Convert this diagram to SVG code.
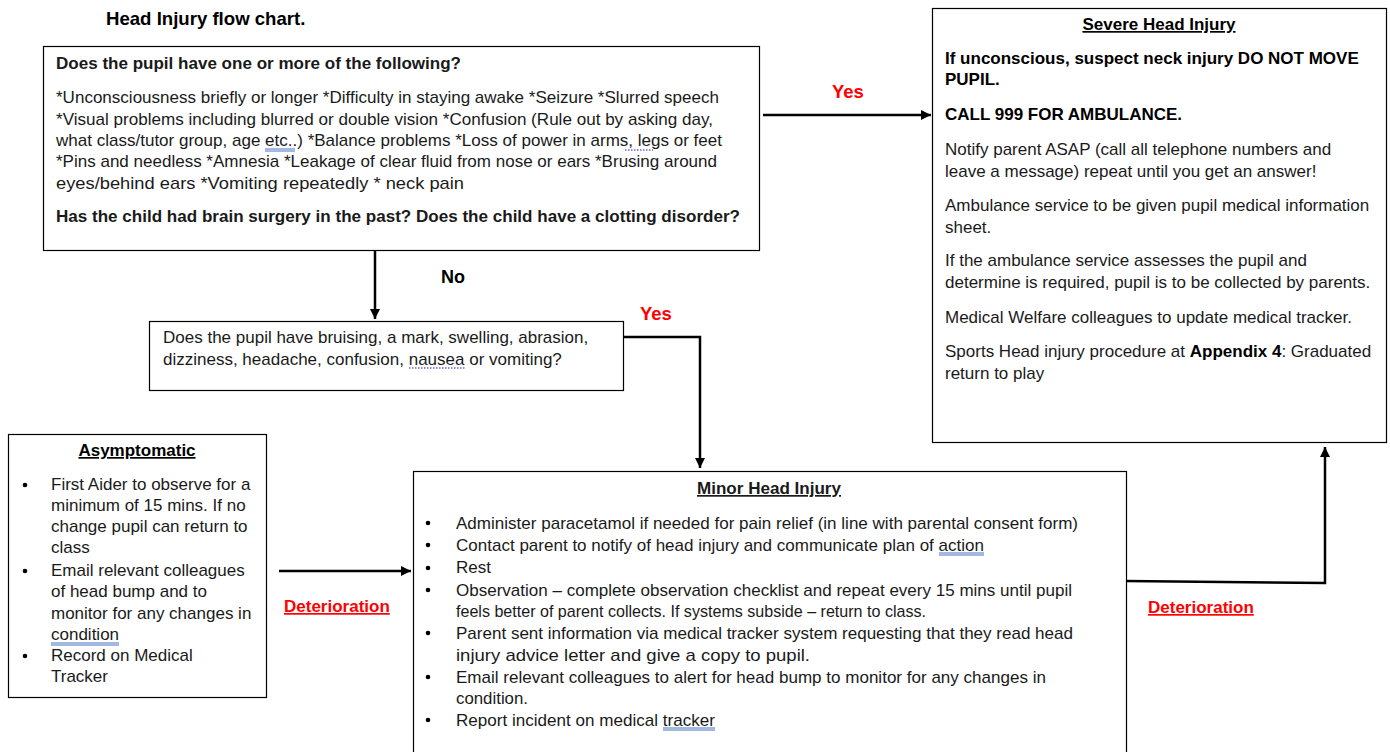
<svg xmlns="http://www.w3.org/2000/svg" width="1390" height="752" viewBox="0 0 1390 752">
<style>
.box{fill:#fff;stroke:#000;stroke-width:1.2}
.t{font-family:"Liberation Sans",Arial,sans-serif;font-size:17px;fill:#1a1a1a}
.b{font-weight:bold;fill:#000}
.n{font-family:"Liberation Sans Narrow","Liberation Sans",Arial,sans-serif;font-size:17px;fill:#1a1a1a}
.u{text-decoration:underline}
.red{font-family:"Liberation Sans",Arial,sans-serif;font-size:18.5px;font-weight:bold;fill:#ff0000}
.con{fill:none;stroke:#000;stroke-width:2.5}
.sp{stroke:#4472c4;stroke-width:1}
.sg{stroke:#7a5cd6;stroke-width:1.5;stroke-dasharray:1.5 1.5}
</style>
<defs>
<marker id="ah" viewBox="0 0 10 10" refX="10" refY="5" markerWidth="4" markerHeight="4" orient="auto" markerUnits="strokeWidth">
<path d="M0,0 L10,5 L0,10 Z" fill="#000"/>
</marker>
</defs>
<rect width="1390" height="752" fill="#fff"/>
<text x="106" y="25" class="t b" style="font-size:18.6px">Head Injury flow chart.</text>

<g id="connectors">
<line class="con" x1="763" y1="115" x2="931" y2="115" marker-end="url(#ah)"/>
<line class="con" x1="375" y1="251" x2="375" y2="319" marker-end="url(#ah)"/>
<polyline class="con" points="623,337 700,337 700,468" marker-end="url(#ah)"/>
<line class="con" x1="279" y1="571" x2="411" y2="571" marker-end="url(#ah)"/>
<polyline class="con" points="1125,581 1325,583 1325,447" marker-end="url(#ah)"/>
<text x="832" y="98" class="red">Yes</text>
<text x="441" y="283" class="t b" style="font-size:18px">No</text>
<text x="640" y="320" class="red">Yes</text>
<text x="284" y="612" class="red u" style="font-size:17px">Deterioration</text>
<text x="1148" y="613" class="red u" style="font-size:17px">Deterioration</text>
</g>

<g id="q1">
<rect class="box" x="43.5" y="46.5" width="716" height="204"/>
<text x="56" y="69" class="n b" textLength="405" lengthAdjust="spacingAndGlyphs">Does the pupil have one or more of the following?</text>
<text x="56" y="103" class="n" textLength="663" lengthAdjust="spacingAndGlyphs">*Unconsciousness briefly or longer *Difficulty in staying awake *Seizure *Slurred speech</text>
<text x="56" y="125" class="n" textLength="657" lengthAdjust="spacingAndGlyphs">*Visual problems including blurred or double vision *Confusion (Rule out by asking day,</text>
<text x="56" y="146" class="n" textLength="666" lengthAdjust="spacingAndGlyphs">what class/tutor group, age etc..) *Balance problems *Loss of power in arms, legs or feet</text>
<text x="56" y="167" class="n" textLength="661" lengthAdjust="spacingAndGlyphs">*Pins and needless *Amnesia *Leakage of clear fluid from nose or ears *Brusing around</text>
<text x="56" y="189" class="n" textLength="408" lengthAdjust="spacingAndGlyphs">eyes/behind ears *Vomiting repeatedly * neck pain</text>
<text x="56" y="222" class="n b" textLength="684" lengthAdjust="spacingAndGlyphs">Has the child had brain surgery in the past? Does the child have a clotting disorder?</text>
<line class="sp" x1="265" y1="149" x2="295" y2="149"/>
<line class="sp" x1="265" y1="151" x2="295" y2="151"/>
<line class="sg" x1="625" y1="150" x2="653" y2="150"/>
</g>

<g id="severe">
<rect class="box" x="932.5" y="8.5" width="454" height="434"/>
<text x="1159" y="30" class="t b u" text-anchor="middle">Severe Head Injury</text>
<text x="945" y="64" class="t b">If unconscious, suspect neck injury DO NOT MOVE</text>
<text x="945" y="85" class="t b">PUPIL.</text>
<text x="945" y="120" class="t b">CALL 999 FOR AMBULANCE.</text>
<text x="945" y="155" class="t">Notify parent ASAP (call all telephone numbers and</text>
<text x="945" y="177" class="t">leave a message) repeat until you get an answer!</text>
<text x="945" y="211" class="t">Ambulance service to be given pupil medical information</text>
<text x="945" y="233" class="t">sheet.</text>
<text x="945" y="266" class="t">If the ambulance service assesses the pupil and</text>
<text x="945" y="288" class="t">determine is required, pupil is to be collected by parents.</text>
<text x="945" y="323" class="t">Medical Welfare colleagues to update medical tracker.</text>
<text x="945" y="357" class="t">Sports Head injury procedure at <tspan class="b">Appendix 4</tspan>: Graduated</text>
<text x="945" y="379" class="t">return to play</text>
</g>

<g id="q2">
<rect class="box" x="149.5" y="321.5" width="474" height="69"/>
<text x="163" y="343" class="t">Does the pupil have bruising, a mark, swelling, abrasion,</text>
<text x="163" y="365" class="t">dizziness, headache, confusion, nausea or vomiting?</text>
<line class="sg" x1="409" y1="368" x2="465" y2="368"/>
</g>

<g id="asymptomatic">
<rect class="box" x="8.5" y="434.5" width="258" height="263"/>
<text x="137" y="456" class="t b u" text-anchor="middle">Asymptomatic</text>
<g class="t">
<circle cx="25" cy="485" r="2.3" fill="#000"/>
<circle cx="25" cy="571" r="2.3" fill="#000"/>
<circle cx="25" cy="656" r="2.3" fill="#000"/>
<text x="51" y="490">First Aider to observe for a</text>
<text x="51" y="511">minimum of 15 mins. If no</text>
<text x="51" y="532">change pupil can return to</text>
<text x="51" y="553">class</text>
<text x="51" y="576">Email relevant colleagues</text>
<text x="51" y="597">of head bump and to</text>
<text x="51" y="619">monitor for any changes in</text>
<text x="51" y="640">condition</text>
<text x="51" y="661">Record on Medical</text>
<text x="51" y="682">Tracker</text>
</g>
<line class="sp" x1="51" y1="643" x2="119" y2="643"/>
<line class="sp" x1="51" y1="645" x2="119" y2="645"/>
</g>

<g id="minor">
<rect class="box" x="413.5" y="471.5" width="713" height="295"/>
<text x="769" y="494" class="n b u" text-anchor="middle" textLength="144" lengthAdjust="spacingAndGlyphs">Minor Head Injury</text>
<g fill="#000">
<circle cx="428" cy="523" r="2.3"/>
<circle cx="428" cy="545" r="2.3"/>
<circle cx="428" cy="568" r="2.3"/>
<circle cx="428" cy="590" r="2.3"/>
<circle cx="428" cy="633" r="2.3"/>
<circle cx="428" cy="677" r="2.3"/>
<circle cx="428" cy="720" r="2.3"/>
</g>
<text x="456" y="529" class="n" textLength="622" lengthAdjust="spacingAndGlyphs">Administer paracetamol if needed for pain relief (in line with parental consent form)</text>
<text x="456" y="551" class="n" textLength="528" lengthAdjust="spacingAndGlyphs">Contact parent to notify of head injury and communicate plan of action</text>
<text x="456" y="573" class="n" textLength="35" lengthAdjust="spacingAndGlyphs">Rest</text>
<text x="456" y="596" class="n" textLength="616" lengthAdjust="spacingAndGlyphs">Observation – complete observation checklist and repeat every 15 mins until pupil</text>
<text x="456" y="617" class="n" textLength="470" lengthAdjust="spacingAndGlyphs">feels better of parent collects. If systems subside – return to class.</text>
<text x="456" y="639" class="n" textLength="617" lengthAdjust="spacingAndGlyphs">Parent sent information via medical tracker system requesting that they read head</text>
<text x="456" y="661" class="n" textLength="354" lengthAdjust="spacingAndGlyphs">injury advice letter and give a copy to pupil.</text>
<text x="456" y="683" class="n" textLength="590" lengthAdjust="spacingAndGlyphs">Email relevant colleagues to alert for head bump to monitor for any changes in</text>
<text x="456" y="704" class="n" textLength="72" lengthAdjust="spacingAndGlyphs">condition.</text>
<text x="456" y="726" class="n" textLength="259" lengthAdjust="spacingAndGlyphs">Report incident on medical tracker</text>
<line class="sp" x1="939" y1="553" x2="984" y2="553"/>
<line class="sp" x1="939" y1="555" x2="984" y2="555"/>
<line class="sp" x1="663" y1="728" x2="715" y2="728"/>
<line class="sp" x1="663" y1="730" x2="715" y2="730"/>
</g>
</svg>
